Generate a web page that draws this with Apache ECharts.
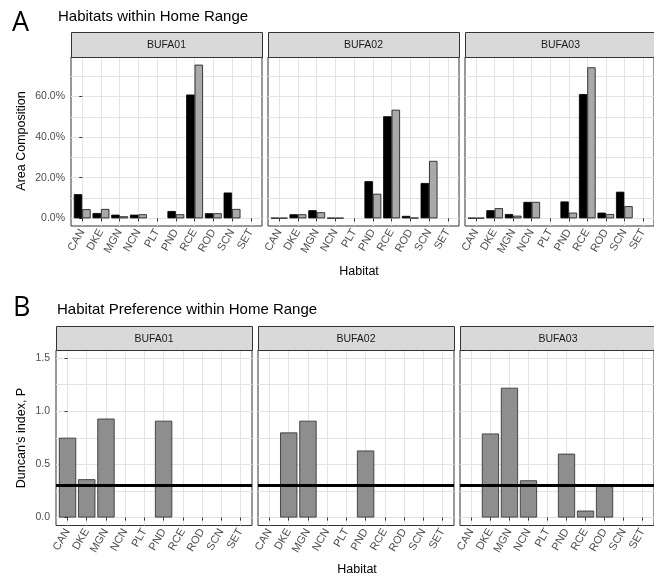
<!DOCTYPE html>
<html><head><meta charset="utf-8">
<script src="https://cdn.jsdelivr.net/npm/echarts@6/dist/echarts.min.js"></script>
<style>html,body{margin:0;padding:0;background:#fff}#c{width:654px;height:579px}</style>
</head><body><div id="c"></div>
<script>
// ---------- data ----------
const categories = ['CAN','DKE','MGN','NCN','PLT','PND','RCE','ROD','SCN','SET'];
const facets = ['BUFA01','BUFA02','BUFA03'];
const areaTicks = [0, 20, 40, 60];
const areaGridValues = [0, 10, 20, 30, 40, 50, 60, 70];
const prefTicks = [0, 0.5, 1.0, 1.5];
const prefGridValues = [0, 0.25, 0.5, 0.75, 1.0, 1.25, 1.5];
const prefLimits = [0, 1.5];
const prefThreshold = 0.3;

// Panel A: area composition (%), black bars and grey bars
const areaBlack01 = [11.9, 2.6, 1.8, 1.8, null, 3.6, 61.0, 2.5, 12.7, null];
const areaGrey01  = [4.5, 4.6, 1.0, 2.0, null, 2.0, 75.7, 2.5, 4.6, null];
const areaBlack02 = [0.2, 2.0, 4.0, 0.2, null, 18.3, 50.3, 1.2, 17.4, null];
const areaGrey02  = [0.2, 2.0, 3.0, 0.2, null, 12.1, 53.5, 0.3, 28.3, null];
const areaBlack03 = [0.2, 4.0, 2.1, 8.1, null, 8.3, 61.2, 2.8, 13.1, null];
const areaGrey03  = [0.2, 5.0, 1.3, 8.1, null, 2.8, 74.4, 2.1, 6.0, null];

// Panel B: Duncan's index P
const pref01 = [0.75, 0.36, 0.93, null, null, 0.91, null, null, null, null];
const pref02 = [null, 0.80, 0.91, null, null, 0.63, null, null, null, null];
const pref03 = [null, 0.79, 1.22, 0.35, null, 0.60, 0.065, 0.30, null, null];

// ---------- layout ----------
const FONT = "'Liberation Sans', Arial, sans-serif";
const GRIDC = '#e3e3e3';
const A = {top: 57, height: 169, lefts: [71, 268, 465], width: 191, stripTop: 32, stripH: 25};
const B = {top: 350, height: 175.5, lefts: [56, 258, 460], width: 196, stripTop: 326, stripH: 24};

const areaBlack = [areaBlack01, areaBlack02, areaBlack03];
const areaGrey = [areaGrey01, areaGrey02, areaGrey03];
const prefs = [pref01, pref02, pref03];

// ggplot-like 5% expansion
const areaMax = Math.max(...areaBlack.flat().filter(v => v != null), ...areaGrey.flat().filter(v => v != null));
const areaExp = 0.05 * areaMax;
const areaRange = [-areaExp, areaMax + areaExp];
const prefExp = 0.05 * (prefLimits[1] - prefLimits[0]);
const prefRange = [prefLimits[0] - prefExp, prefLimits[1] + prefExp];

const catIdx = categories.map((c, i) => i);
const grids = [], xAxes = [], yAxes = [], series = [], graphics = [];

function addPanel(panel, f, gi, range, ticks, gridVals, fmt) {
  grids.push({left: panel.lefts[f], top: panel.top, width: panel.width, height: panel.height,
    show: true, borderColor: '#333', borderWidth: 1, backgroundColor: '#fff', containLabel: false});
  xAxes.push({type: 'value', gridIndex: gi, min: -0.6, max: categories.length - 1 + 0.6,
    axisLine: {show: false},
    axisTick: {show: true, customValues: catIdx, length: 3, lineStyle: {color: '#333', width: 1}},
    axisLabel: {show: true, customValues: catIdx, formatter: v => categories[Math.round(v)] || '',
      rotate: 60, fontSize: 11, color: '#4d4d4d', fontFamily: FONT, margin: 4},
    splitLine: {show: true, lineStyle: {color: GRIDC, width: 1}}});
  const first = f === 0;
  yAxes.push({type: 'value', gridIndex: gi, min: range[0], max: range[1],
    axisLine: {show: false},
    axisTick: {show: first, customValues: ticks, length: 3, lineStyle: {color: '#333'}},
    axisLabel: {show: first, customValues: ticks, formatter: fmt, fontSize: 10.5, color: '#4d4d4d', fontFamily: FONT, margin: 6},
    splitLine: {show: false}});
  yAxes.push({type: 'value', gridIndex: gi, min: range[0], max: range[1],
    axisLine: {show: false}, axisTick: {show: false, customValues: gridVals},
    axisLabel: {show: false, customValues: gridVals},
    splitLine: {show: true, lineStyle: {color: GRIDC, width: 1}}});
  // strip
  graphics.push({type: 'rect', shape: {x: panel.lefts[f] + 0.5, y: panel.stripTop + 0.5, width: panel.width, height: panel.stripH},
    style: {fill: '#d9d9d9', stroke: '#333', lineWidth: 1}, z: 10});
  graphics.push({type: 'text', x: panel.lefts[f] + panel.width / 2, y: panel.stripTop + panel.stripH / 2 + 1,
    style: {text: facets[f], fill: '#1a1a1a', font: '10.5px ' + FONT, textAlign: 'center', textVerticalAlign: 'middle'}, z: 11});
}

for (let f = 0; f < 3; f++) {
  const gi = f;
  addPanel(A, f, gi, areaRange, areaTicks, areaGridValues, v => v.toFixed(1) + '%');
  series.push({type: 'bar', name: 'Black', xAxisIndex: gi, yAxisIndex: 2 * gi,
    data: catIdx.map(i => [i, areaBlack[f][i]]), barWidth: '45%', barGap: '0%',
    itemStyle: {color: '#000', borderColor: '#000', borderWidth: 0.8}, z: 3});
  series.push({type: 'bar', name: 'Grey', xAxisIndex: gi, yAxisIndex: 2 * gi,
    data: catIdx.map(i => [i, areaGrey[f][i]]), barWidth: '45%', barGap: '0%',
    itemStyle: {color: '#a9a9a9', borderColor: '#111', borderWidth: 0.8}, z: 3});
}
for (let f = 0; f < 3; f++) {
  const gi = 3 + f;
  addPanel(B, f, gi, prefRange, prefTicks, prefGridValues, v => v.toFixed(1));
  series.push({type: 'bar', name: 'P', xAxisIndex: gi, yAxisIndex: 2 * gi,
    data: catIdx.map(i => [i, prefs[f][i]]), barWidth: '90%',
    itemStyle: {color: '#8e8e8e', borderColor: '#2a2a2a', borderWidth: 0.8}, z: 3,
    markLine: {silent: true, symbol: ['none', 'none'], label: {show: false},
      lineStyle: {color: '#000', width: 3, type: 'solid'}, data: [{yAxis: prefThreshold}], animation: false}});
}

// titles & axis titles
graphics.push({type: 'text', x: 12, y: 10, style: {text: 'A', font: '27px "Open Sans", sans-serif', fill: '#000'}});
graphics.push({type: 'text', x: 58, y: 9, style: {text: 'Habitats within Home Range', font: '15px ' + FONT, fill: '#000'}});
graphics.push({type: 'text', x: 13, y: 295, style: {text: 'B', font: '27px "Open Sans", sans-serif', fill: '#000'}});
graphics.push({type: 'text', x: 57, y: 302, style: {text: 'Habitat Preference within Home Range', font: '15px ' + FONT, fill: '#000'}});
graphics.push({type: 'text', x: 22, y: 141, rotation: Math.PI / 2,
  style: {text: 'Area Composition', font: '12.5px ' + FONT, fill: '#000', textAlign: 'center', textVerticalAlign: 'middle'}});
graphics.push({type: 'text', x: 22, y: 438, rotation: Math.PI / 2,
  style: {text: "Duncan's index, P", font: '12.5px ' + FONT, fill: '#000', textAlign: 'center', textVerticalAlign: 'middle'}});
graphics.push({type: 'text', x: 359, y: 272,
  style: {text: 'Habitat', font: '12.5px ' + FONT, fill: '#000', textAlign: 'center', textVerticalAlign: 'middle'}});
graphics.push({type: 'text', x: 357, y: 570,
  style: {text: 'Habitat', font: '12.5px ' + FONT, fill: '#000', textAlign: 'center', textVerticalAlign: 'middle'}});

const chart = echarts.init(document.getElementById('c'), null, {renderer: 'canvas'});
chart.setOption({animation: false, backgroundColor: '#fff', textStyle: {fontFamily: FONT},
  grid: grids, xAxis: xAxes, yAxis: yAxes, series: series, graphic: graphics});
</script></body></html>
